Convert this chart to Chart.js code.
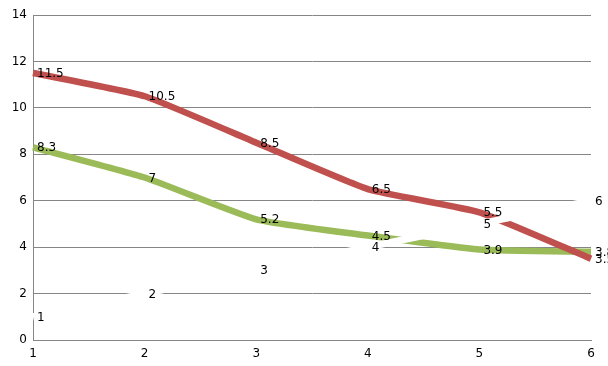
<!DOCTYPE html>
<html>
<head>
    <title>Line chart</title>
    <script src="https://cdn.jsdelivr.net/npm/chart.js"></script>
    <style>
        body { margin: 0; background: white; }
        canvas { display: block; }
    </style>
</head>
<body>
    <canvas id="lineChart" width="608" height="366"></canvas>
    <script>
        // x categories and series
        const xLabels = ['1', '2', '3', '4', '5', '6'];
        const whiteSeries = [1, 2, 3, 4, 5, 6];
        const redSeries = [11.5, 10.5, 8.5, 6.5, 5.5, 3.5];
        const greenSeries = [8.3, 7, 5.2, 4.5, 3.9, 3.8];

        const FONT = { family: 'DejaVu Sans', size: 12 };
        const GRID = '#868686';

        // draws each value just right of its point, like the spreadsheet labels
        const valueLabels = {
            id: 'valueLabels',
            afterDatasetsDraw(chart) {
                const ctx = chart.ctx;
                ctx.save();
                ctx.font = '12px "DejaVu Sans"';
                ctx.fillStyle = '#000';
                ctx.textBaseline = 'middle';
                ctx.textAlign = 'left';
                chart.data.datasets.forEach((ds, i) => {
                    const meta = chart.getDatasetMeta(i);
                    meta.data.forEach((pt, j) => {
                        ctx.fillText(String(ds.data[j]), pt.x + 4, pt.y + 1);
                    });
                });
                ctx.restore();
            }
        };

        new Chart(document.getElementById('lineChart'), {
            type: 'line',
            data: {
                labels: xLabels,
                datasets: [
                    { label: 'A', data: whiteSeries, borderColor: '#ffffff', borderWidth: 7, order: 0 },
                    { label: 'B', data: redSeries, borderColor: '#C0504D', borderWidth: 6.5, order: 1 },
                    { label: 'C', data: greenSeries, borderColor: '#9BBB59', borderWidth: 6.5, order: 2 }
                ]
            },
            options: {
                responsive: false,
                animation: false,
                layout: { padding: { top: 15, right: 17, left: 0, bottom: 0 } },
                elements: {
                    point: { radius: 0 },
                    line: { tension: 0.15, fill: false }
                },
                plugins: {
                    legend: { display: false },
                    tooltip: { enabled: false }
                },
                scales: {
                    x: {
                        offset: false,
                        grid: { display: false, drawTicks: false },
                        border: { display: true, color: GRID },
                        ticks: { color: '#000', font: FONT, padding: 7, maxRotation: 0 },
                        afterFit(scale) { scale.height = 26; }
                    },
                    y: {
                        min: 0,
                        max: 14,
                        ticks: { stepSize: 2, color: '#000', font: FONT, padding: 6 },
                        grid: { color: GRID, drawTicks: false },
                        border: { display: true, color: GRID },
                        afterFit(scale) { scale.width = 33; }
                    }
                }
            },
            plugins: [valueLabels]
        });
    </script>
</body>
</html>
